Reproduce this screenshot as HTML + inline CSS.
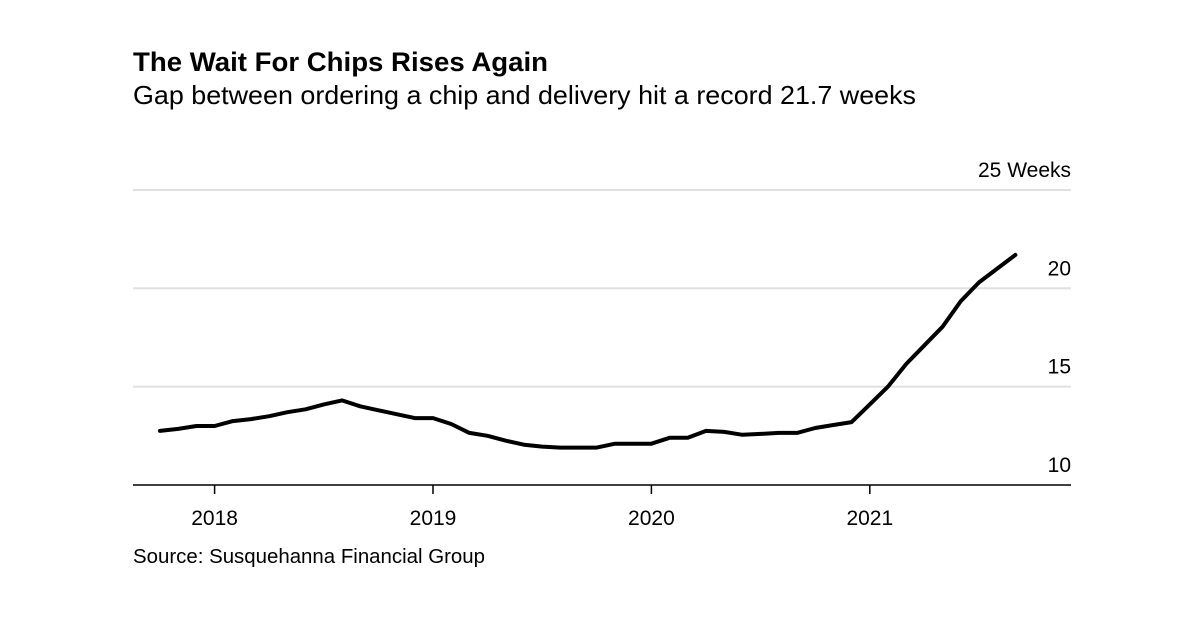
<!DOCTYPE html>
<html><head><meta charset="utf-8"><style>
body{margin:0;background:#fff;width:1200px;height:624px;overflow:hidden;font-family:"Liberation Sans",Arial,sans-serif;color:#000}
svg{position:absolute;left:0;top:0}
</style></head><body>
<svg width="1200" height="624" id="chart">
<text x="133" y="71" font-size="27" font-weight="bold" textLength="415" lengthAdjust="spacingAndGlyphs">The Wait For Chips Rises Again</text>
<text x="133" y="104" font-size="26" textLength="783" lengthAdjust="spacingAndGlyphs">Gap between ordering a chip and delivery hit a record 21.7 weeks</text>
<text x="133" y="563" font-size="20" textLength="352" lengthAdjust="spacingAndGlyphs">Source: Susquehanna Financial Group</text>
<g id="grid"></g><g id="xaxis"></g><path id="line" fill="none" stroke="#000" stroke-width="4" stroke-linejoin="round" stroke-linecap="round"/>
</svg>
<script>
const months=48; // Oct 2017 .. Sep 2021
const values=[12.75,12.85,13.0,13.0,13.25,13.35,13.5,13.7,13.85,14.1,14.3,14.0,13.8,13.6,13.4,13.4,13.1,12.65,12.5,12.25,12.05,11.95,11.9,11.9,11.9,12.1,12.1,12.1,12.4,12.4,12.75,12.7,12.55,12.6,12.65,12.65,12.9,13.05,13.2,14.1,15.0,16.15,17.1,18.05,19.35,20.3,21.0,21.7];
const yTicks=[10,15,20,25];
const yTickLabels=["10","15","20","25 Weeks"];
const xYears=[2018,2019,2020,2021];
const ns="http://www.w3.org/2000/svg";
function y(v){return 485-(v-10)*19.67;}
function x(i){return 160+i*18.2;}
function yearX(yr){return x((yr-2018)*12+3);}
const grid=document.getElementById('grid'),xa=document.getElementById('xaxis');
yTicks.forEach((t,k)=>{
  if(k>0){const l=document.createElementNS(ns,'line');
  l.setAttribute('x1',133);l.setAttribute('x2',1071);l.setAttribute('y1',y(t));l.setAttribute('y2',y(t));
  l.setAttribute('stroke','#e0e0e0');l.setAttribute('stroke-width',2);
  
  
  grid.appendChild(l);}
  const tx=document.createElementNS(ns,'text');
  tx.setAttribute('x',1071);tx.setAttribute('y',y(t)-13);tx.setAttribute('text-anchor','end');tx.setAttribute('font-size',21);
  tx.textContent=yTickLabels[k];
  
  
  grid.appendChild(tx);
});
const base=document.createElementNS(ns,'line');
base.setAttribute('x1',133);base.setAttribute('x2',1071);base.setAttribute('y1',485);base.setAttribute('y2',485);base.setAttribute('stroke','#000');base.setAttribute('stroke-width',1.5);


xa.appendChild(base);
xYears.forEach(yr=>{
  const px=yearX(yr);
  const t=document.createElementNS(ns,'line');
  t.setAttribute('x1',px);t.setAttribute('x2',px);t.setAttribute('y1',485);t.setAttribute('y2',494);t.setAttribute('stroke','#000');t.setAttribute('stroke-width',1.5);
  
  
  xa.appendChild(t);
  const tx=document.createElementNS(ns,'text');
  tx.setAttribute('x',px);tx.setAttribute('y',525);tx.setAttribute('text-anchor','middle');tx.setAttribute('font-size',21);
  tx.textContent=yr;
  
  
  xa.appendChild(tx);
});
document.getElementById('line').setAttribute('d',values.map((v,i)=>(i?'L':'M')+x(i).toFixed(1)+','+y(v).toFixed(1)).join(''));
</script>
</body></html>
